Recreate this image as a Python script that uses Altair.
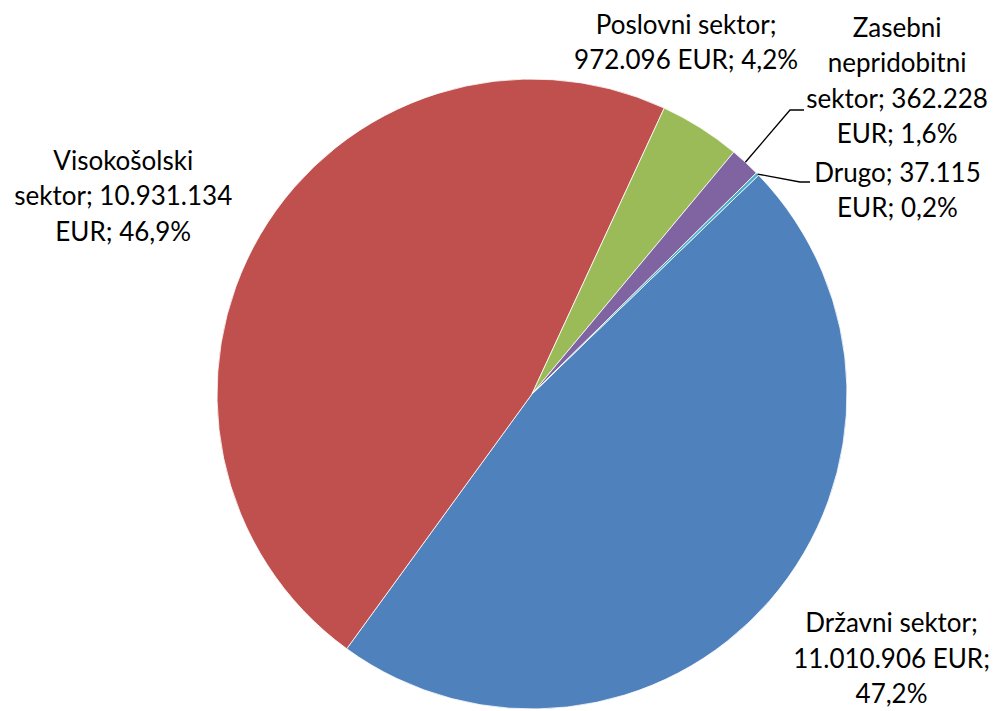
import math
import altair as alt
import pandas as pd

# ---- data ----
categories = ["Državni sektor", "Visokošolski sektor", "Poslovni sektor",
              "Zasebni nepridobitni sektor", "Drugo"]
values = [11010906, 10931134, 972096, 362228, 37115]
labels = [
    "Državni sektor;\n11.010.906 EUR;\n47,2%",
    "Visokošolski\nsektor; 10.931.134\nEUR; 46,9%",
    "Poslovni sektor;\n972.096 EUR; 4,2%",
    "Zasebni\nnepridobitni\nsektor; 362.228\nEUR; 1,6%",
    "Drugo; 37.115\nEUR; 0,2%",
]
colors = ["#4F81BD", "#C0504D", "#9BBB59", "#8064A2", "#4BACC6"]

# ---- layout / style ----
W, H = 634, 630
R = 315
START_DEG = 46.0
FONT = "Lato"
FS = 26
LH = 35.5
# per label: (radius, dx, dy) -- dy refers to the vertical centre of the text block
label_style = {
    "Državni sektor": (446, 23, -27),
    "Visokošolski sektor": (452, -19, 32),
    "Poslovni sektor": (378, -48, -31),
    "Zasebni nepridobitni sektor": (480, 40, 41),
    "Drugo": (403, 77, 79),
}
# leader line elbows relative to the pie centre
leader_elbows = {
    "Zasebni nepridobitni sektor": [(258, -284), (272, -284)],
    "Drugo": [(268, -212), (278, -212)],
}

df = pd.DataFrame({
    "cat": categories,
    "value": values,
    "label": labels,
    "idx": list(range(len(categories))),
})

start = math.radians(START_DEG)
theta_scale = alt.Scale(range=[start, start + 2 * math.pi])
theta = alt.Theta("value:Q", stack=True, scale=theta_scale)
order = alt.Order("idx:Q", sort="ascending")

base = alt.Chart(df)

pie = base.mark_arc(outerRadius=R, stroke="#ffffff", strokeWidth=0.8).encode(
    theta=theta,
    order=order,
    color=alt.Color("cat:N", scale=alt.Scale(domain=categories, range=colors), legend=None),
)

layers = [pie]
for cat, lab in zip(categories, labels):
    r, dx, dy = label_style[cat]
    n_lines = lab.count("\n") + 1
    dy_first = dy - (n_lines - 1) * LH / 2  # first line position
    layers.append(
        base.mark_text(radius=r, dx=dx, dy=dy_first, lineBreak="\n", font=FONT, fontSize=FS,
                       lineHeight=LH, align="center", baseline="middle", color="#000000").encode(
            theta=theta,
            order=order,
            text=alt.condition(alt.datum.cat == cat, alt.Text("label:N"), alt.value("")),
        )
    )

# leader lines computed from slice mid-angles
total = sum(values)
rows = []
cum = 0
for cat, v in zip(categories, values):
    mid = start + 2 * math.pi * (cum + v / 2) / total
    cum += v
    if cat in leader_elbows:
        cx, cy = W / 2, H / 2
        pts = [(R * math.sin(mid), -R * math.cos(mid))] + leader_elbows[cat]
        for i, (px, py) in enumerate(pts):
            rows.append({"cat": cat, "seq": i, "lx": cx + px, "ly": cy + py})
lines_df = pd.DataFrame(rows)

leaders = alt.Chart(lines_df).mark_line(color="#000000", strokeWidth=1.3).encode(
    x=alt.X("lx:Q", scale=None, axis=None),
    y=alt.Y("ly:Q", scale=None, axis=None),
    detail="cat:N",
    order="seq:Q",
)
layers.append(leaders)

chart = alt.layer(*layers).properties(
    width=W, height=H,
    autosize=alt.AutoSizeParams(type="none"),
    padding={"left": 207, "top": 71, "right": 142, "bottom": 0},
    background="#ffffff",
).configure_view(stroke=None)

chart.save("out.html", embed_options={"renderer": "svg", "actions": False})
